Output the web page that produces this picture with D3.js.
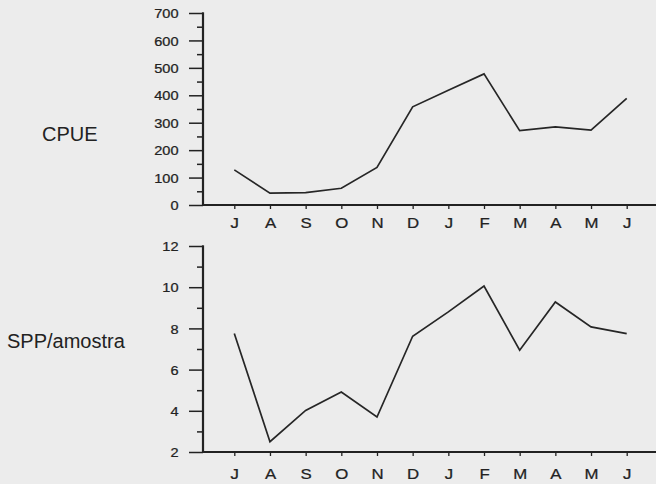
<!DOCTYPE html>
<html><head><meta charset="utf-8">
<script src="https://cdn.jsdelivr.net/npm/d3@7/dist/d3.min.js"></script>
<style>body{margin:0;background:#ececec}svg{display:block}</style>
</head><body><svg id="c" width="656" height="484"></svg>
<script>
const months = ["J","A","S","O","N","D","J","F","M","A","M","J"];
const cpue = [128,43,45,61,137,358,418,478,271,285,273,389];
const spp = [7.75,2.5,4.02,4.91,3.7,7.62,8.8,10.06,6.94,9.28,8.07,7.75];
const cpueTicks = [0,100,200,300,400,500,600,700];
const cpueMinor = [50,150,250,350,450,550,650];
const sppTicks = [2,4,6,8,10,12];
const sppMinor = [3,5,7,9,11];

const svg = d3.select("#c");
const ink = "#222";
const font = "'Liberation Sans', Arial, sans-serif";

const x = d3.scalePoint().domain(d3.range(months.length)).range([234.3, 626.7]);

function panel(vals, yDomain, yRange, major, minor, title, titleX, titleY, labelDy) {
  const y = d3.scaleLinear().domain(yDomain).range(yRange);
  const g = svg.append("g");
  const axisX = 203;
  g.append("g").attr("transform", `translate(${axisX},0)`)
    .call(d3.axisLeft(y).tickValues(minor).tickSize(6).tickFormat(""))
    .call(s => s.select(".domain").remove())
    .call(s => s.selectAll("line").attr("stroke", ink).attr("stroke-width", 1.5));
  const ya = g.append("g").attr("transform", `translate(${axisX},0)`)
    .call(d3.axisLeft(y).tickValues(major).tickSize(14).tickSizeOuter(0).tickPadding(10))
    .call(s => s.select(".domain").remove())
    .call(s => s.selectAll("line").attr("stroke", ink).attr("stroke-width", 1.5));
  ya.selectAll("text")
    .attr("x", 0).attr("dy", "0.36em")
    .attr("transform", "translate(-24.5,0) scale(1.12,1)")
    .attr("fill", ink).attr("stroke", ink).attr("stroke-width", 0.25)
    .style("font-family", font).style("font-size", "13px");
  g.append("line").attr("x1", axisX).attr("x2", axisX)
    .attr("y1", y(yDomain[1]) - 0.7).attr("y2", y(yDomain[0]) + 1)
    .attr("stroke", ink).attr("stroke-width", 2.2);
  const xa = g.append("g").attr("transform", `translate(0,${y(yDomain[0])})`)
    .call(d3.axisBottom(x).tickSize(4).tickSizeOuter(0).tickFormat(i => months[i]))
    .call(s => s.select(".domain").remove())
    .call(s => s.selectAll("line").attr("stroke", ink).attr("stroke-width", 1.3));
  xa.selectAll("text").attr("y", labelDy).attr("dy", "0.35em")
    .attr("transform", "scale(1.12,1)")
    .attr("fill", ink).attr("stroke", ink).attr("stroke-width", 0.25)
    .style("font-family", font).style("font-size", "15px");
  g.append("line").attr("x1", axisX - 1).attr("x2", 656)
    .attr("y1", y(yDomain[0])).attr("y2", y(yDomain[0]))
    .attr("stroke", ink).attr("stroke-width", 2.2);
  g.append("path").datum(vals)
    .attr("fill", "none").attr("stroke", "#262626").attr("stroke-width", 1.7)
    .attr("stroke-linejoin", "miter")
    .attr("d", d3.line().x((d, i) => x(i)).y(d => y(d)));
  svg.append("text").attr("x", titleX).attr("y", titleY)
    .attr("fill", ink).style("font-family", font).style("font-size", "20px")
    .text(title);
}

panel(cpue, [0, 700], [205, 13], cpueTicks, cpueMinor, "CPUE", 42, 141, 17.5);
panel(spp, [2, 12], [452, 246], sppTicks, sppMinor, "SPP/amostra", 7, 348, 22);
</script>
</body></html>
